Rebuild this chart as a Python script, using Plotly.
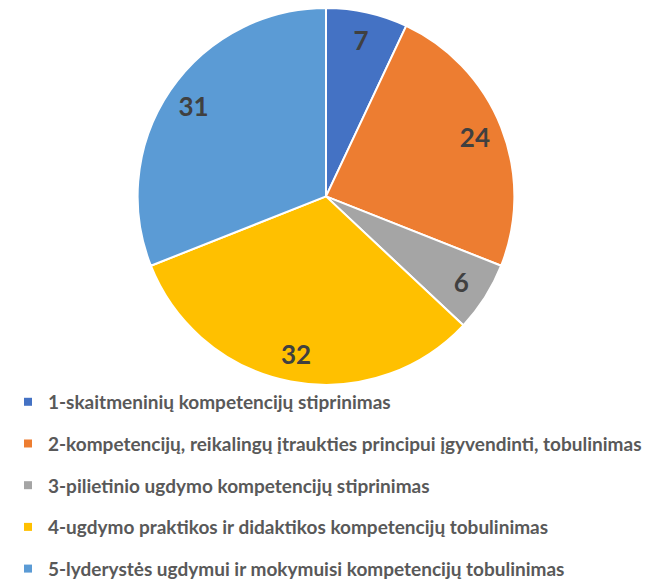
import plotly.graph_objects as go

categories = [
    "1-skaitmeninių kompetencijų stiprinimas",
    "2-kompetencijų, reikalingų įtraukties principui įgyvendinti, tobulinimas",
    "3-pilietinio ugdymo kompetencijų stiprinimas",
    "4-ugdymo praktikos ir didaktikos kompetencijų tobulinimas",
    "5-lyderystės ugdymui ir mokymuisi kompetencijų tobulinimas",
]
values = [7, 24, 6, 32, 31]
colors = ["#4472C4", "#ED7D31", "#A5A5A5", "#FFC000", "#5B9BD5"]

W, H = 655, 580
dom = dict(x=[113 / W, 523 / W], y=[1 - 410 / H, 1.0])
fig = go.Figure()
fig.add_trace(go.Pie(
    labels=categories, values=values, sort=False, direction="clockwise", rotation=0,
    marker=dict(colors=colors, line=dict(color="white", width=2)),
    textinfo="none", showlegend=False, hoverinfo="label+value",
    domain=dom,
))
fig.add_trace(go.Pie(
    labels=categories, values=values, sort=False, direction="clockwise", rotation=0,
    hole=0.7,
    marker=dict(colors=["rgba(0,0,0,0)"] * len(values), line=dict(width=0)),
    textinfo="value", textposition="inside", insidetextorientation="horizontal",
    textfont=dict(family="Lato", size=26, color="#404040", weight="bold"),
    showlegend=False, hoverinfo="skip",
    domain=dom,
))
for i, (c, col) in enumerate(zip(categories, colors)):
    fig.add_trace(go.Scatter(
        x=[None], y=[None], mode="markers", name=c, legendgroup=str(i),
        marker=dict(symbol="square", size=8, color=col),
        showlegend=True,
    ))
fig.update_layout(
    width=W, height=H, margin=dict(l=0, r=0, t=0, b=0),
    paper_bgcolor="white", plot_bgcolor="white",
    xaxis=dict(visible=False), yaxis=dict(visible=False),
    legend=dict(x=0, y=1 - 408 / H, xanchor="left", yanchor="top",
                font=dict(family="Lato", size=19, color="#595959", weight="bold"),
                tracegroupgap=14, itemwidth=30, bgcolor="rgba(0,0,0,0)"),
)
fig.write_html("out.html")
